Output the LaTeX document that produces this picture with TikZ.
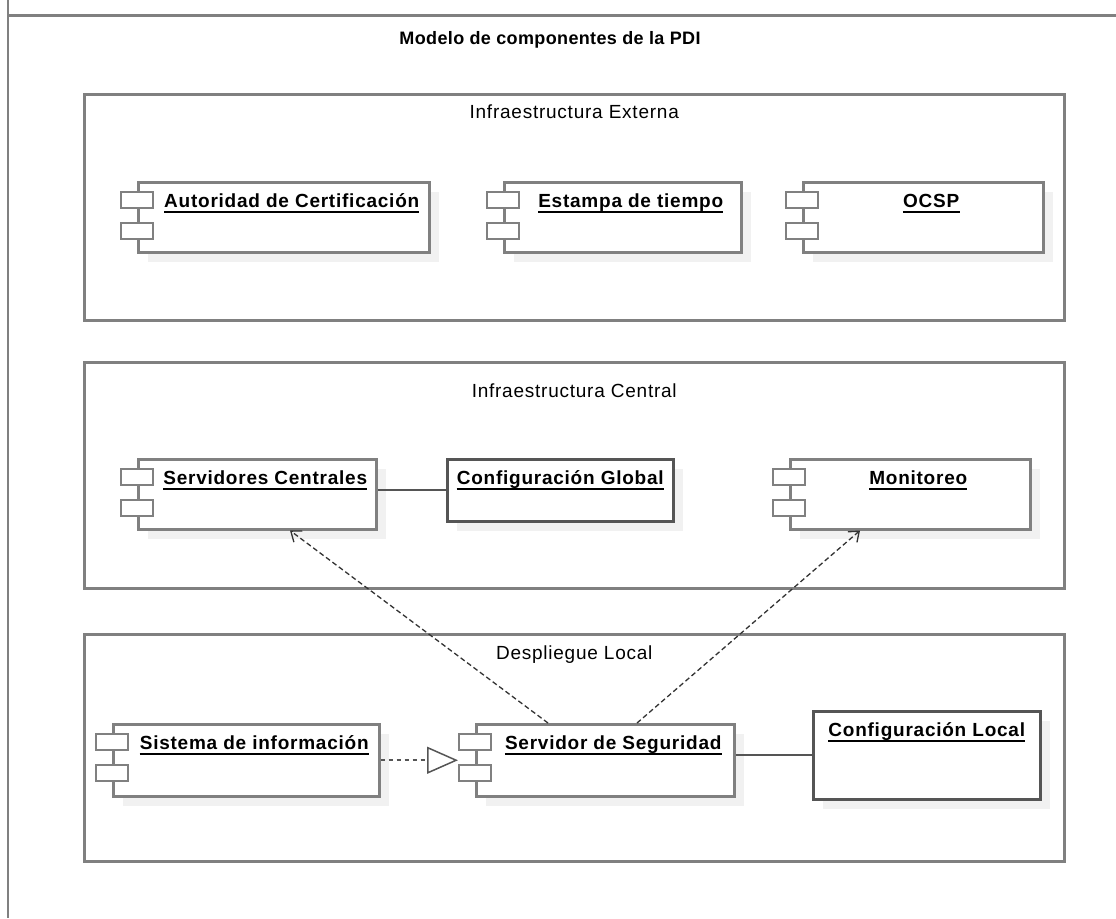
\documentclass[tikz,border=0pt]{standalone}
\usepackage{fontspec}
\setmainfont{Liberation Sans}
\newfontfamily\umlfont[LetterSpace=4]{Liberation Sans}
\newfontfamily\pkgfont[LetterSpace=4]{Liberation Sans}
\newfontfamily\headfont[LetterSpace=2]{Liberation Sans}
\usetikzlibrary{arrows.meta,calc}
\definecolor{cline}{RGB}{128,128,128}
\definecolor{cdark}{RGB}{85,85,85}
\definecolor{cshade}{RGB}{241,241,241}
\definecolor{carrow}{RGB}{51,51,51}
\tikzset{
  pkg/.style={draw=cline,line width=2.5pt,anchor=north west,inner sep=0pt},
  comp/.style={draw=cline,line width=2.5pt,fill=white,anchor=north west,inner sep=0pt},
  artifact/.style={draw=cdark,line width=2.5pt,fill=white,anchor=north west,inner sep=0pt},
  port/.style={draw=cline,line width=2pt,fill=white,minimum width=32pt,minimum height=16pt,inner sep=0pt},
  compname/.style={font=\umlfont\bfseries\fontsize{19pt}{22pt}\selectfont,inner sep=0pt,anchor=base},
  pkgname/.style={font=\pkgfont\fontsize{19pt}{22pt}\selectfont,inner sep=0pt},
  uline/.style={line width=1.8pt},
  link/.style={draw=cdark,line width=2pt},
  usage/.style={draw=carrow,line width=1.3pt,dash pattern=on 5pt off 3pt,-{Straight Barb[length=9pt,width=14pt]}},
  realize/.style={draw=cdark,line width=2pt,dash pattern=on 4pt off 4pt,-{Triangle[open,length=31pt,width=27pt,line width=1.5pt]}},
}
% component with two ports: name, left, top, width, height, text
\newcommand{\umlcomp}[6]{%
  \fill[cshade] (#2+11,#3+11) rectangle ++(#4,#5);
  \node[comp,minimum width=#4pt,minimum height=#5pt] (#1) at (#2,#3) {};
  \node[port] (#1-p1) at ([yshift=-19pt]#1.north west) {};
  \node[port] (#1-p2) at ([yshift=-50pt]#1.north west) {};
  \node[compname] (#1-t) at ([xshift=8pt,yshift=-26pt]#1.north) {#6};
  \draw[uline] ([yshift=-5pt]#1-t.base west) -- ([yshift=-5pt]#1-t.base east);
}
% plain box
\newcommand{\umlbox}[6]{%
  \fill[cshade] (#2+11,#3+11) rectangle ++(#4,#5);
  \node[artifact,minimum width=#4pt,minimum height=#5pt] (#1) at (#2,#3) {};
  \node[compname] (#1-t) at ([yshift=-26pt]#1.north) {#6};
  \draw[uline] ([yshift=-5pt]#1-t.base west) -- ([yshift=-5pt]#1-t.base east);
}

\begin{document}
\begin{tikzpicture}[x=1pt,y=-1pt]
  \fill[white] (0,0) rectangle (1116,918);
  \useasboundingbox (0,0) rectangle (1116,918);
  % frame
  \draw[cline,line width=2.5pt] (8,0) -- (8,918);
  \draw[cline,line width=3pt] (8,15) -- (1116,15);
  \node[font=\headfont\bfseries\fontsize{18pt}{21pt}\selectfont] (title) at (550,40) {Modelo de componentes de la PDI};

  % packages
  \node[pkg,minimum width=980pt,minimum height=226pt] (ext) at (83,93) {};
  \node[pkgname] (ext-t) at ([yshift=-19pt]ext.north) {Infraestructura Externa};
  \node[pkg,minimum width=980pt,minimum height=226pt] (cen) at (83,361) {};
  \node[pkgname] (cen-t) at ([yshift=-30pt]cen.north) {Infraestructura Central};
  \node[pkg,minimum width=980pt,minimum height=227pt] (loc) at (83,633) {};
  \node[pkgname] (loc-t) at ([yshift=-22pt]loc.north) {Despliegue Local};

  % external
  \umlcomp{ca}{137}{181}{291}{70}{Autoridad de Certificación}
  \umlcomp{et}{503}{181}{237}{70}{Estampa de tiempo}
  \umlcomp{oc}{802}{181}{240}{70}{OCSP}
  % central
  \umlcomp{sc}{137}{458}{238}{70}{Servidores Centrales}
  \umlbox{cg}{446}{458}{226}{62}{Configuración Global}
  \umlcomp{mo}{789}{458}{240}{70}{Monitoreo}
  % local
  \umlcomp{si}{112}{723}{266}{72}{Sistema de información}
  \umlcomp{ss}{475}{723}{258}{72}{Servidor de Seguridad}
  \umlbox{cl}{812}{710}{227}{88}{Configuración Local}

  % connectors
  \draw[link] (sc.east |- cg.west) -- (cg.west);
  \draw[link] (ss.east |- cl.west) -- (cl.west);
  \draw[realize] (si.east) -- (si.east -| ss-p1.west);
  \draw[usage] ([xshift=73pt]ss.north west) -- ([xshift=153pt]sc.south west);
  \draw[usage] ([xshift=162pt]ss.north west) -- ([xshift=71pt]mo.south west);
\end{tikzpicture}
\end{document}
